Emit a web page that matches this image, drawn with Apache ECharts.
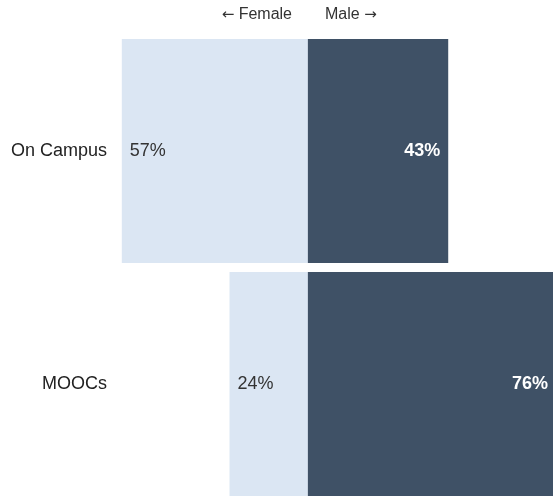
<!DOCTYPE html>
<html><head><meta charset="utf-8">
<script src="https://cdn.jsdelivr.net/npm/echarts@6/dist/echarts.min.js"></script>
<style>html,body{margin:0;padding:0;background:#fff}#c{width:553px;height:499px}</style>
</head><body><div id="c"></div>
<script>
const categories = ['On Campus', 'MOOCs'];
const femaleValues = [57, 24];
const maleValues = [43, 76];
const legendLabels = ['{a|\u2190} Female', 'Male {a|\u2192}'];

const chart = echarts.init(document.getElementById('c'), null, {renderer: 'canvas'});
const font = 'Liberation Sans, Arial, Helvetica, sans-serif';
const arrowRich = {a: {fontFamily: 'DejaVu Sans', fontSize: 15, fill: '#333'}};
chart.setOption({
  animation: false,
  grid: {left: 112, width: 457, top: 34.5, height: 466, containLabel: false, outerBoundsMode: 'none'},
  xAxis: {type: 'value', min: -60, max: 80, show: false},
  yAxis: {
    type: 'category', data: categories, inverse: true,
    axisLine: {show: false, onZero: false}, axisTick: {show: false},
    axisLabel: {color: '#222', fontSize: 18, fontFamily: font, margin: 5}
  },
  graphic: [
    {type: 'text', right: 553 - 292, top: 7, style: {text: legendLabels[0], fill: '#333', fontSize: 16, fontFamily: font, rich: arrowRich}},
    {type: 'text', left: 325, top: 7, style: {text: legendLabels[1], fill: '#333', fontSize: 16, fontFamily: font, rich: arrowRich}}
  ],
  series: [
    {
      name: 'Female', type: 'bar', stack: 'g', barCategoryGap: '3.9%', clip: false,
      data: femaleValues.map(v => -v),
      itemStyle: {color: '#dbe6f3'},
      label: {show: true, position: 'insideLeft', distance: 8, color: '#333', fontSize: 18, fontFamily: font,
        formatter: p => Math.abs(p.value) + '%'}
    },
    {
      name: 'Male', type: 'bar', stack: 'g', barCategoryGap: '3.9%', clip: false,
      data: maleValues,
      itemStyle: {color: '#3f5166'},
      label: {show: true, position: 'insideRight', distance: 8, color: '#fff', fontWeight: 'bold', fontSize: 18, fontFamily: font,
        formatter: p => p.value + '%'}
    }
  ]
});
</script></body></html>
